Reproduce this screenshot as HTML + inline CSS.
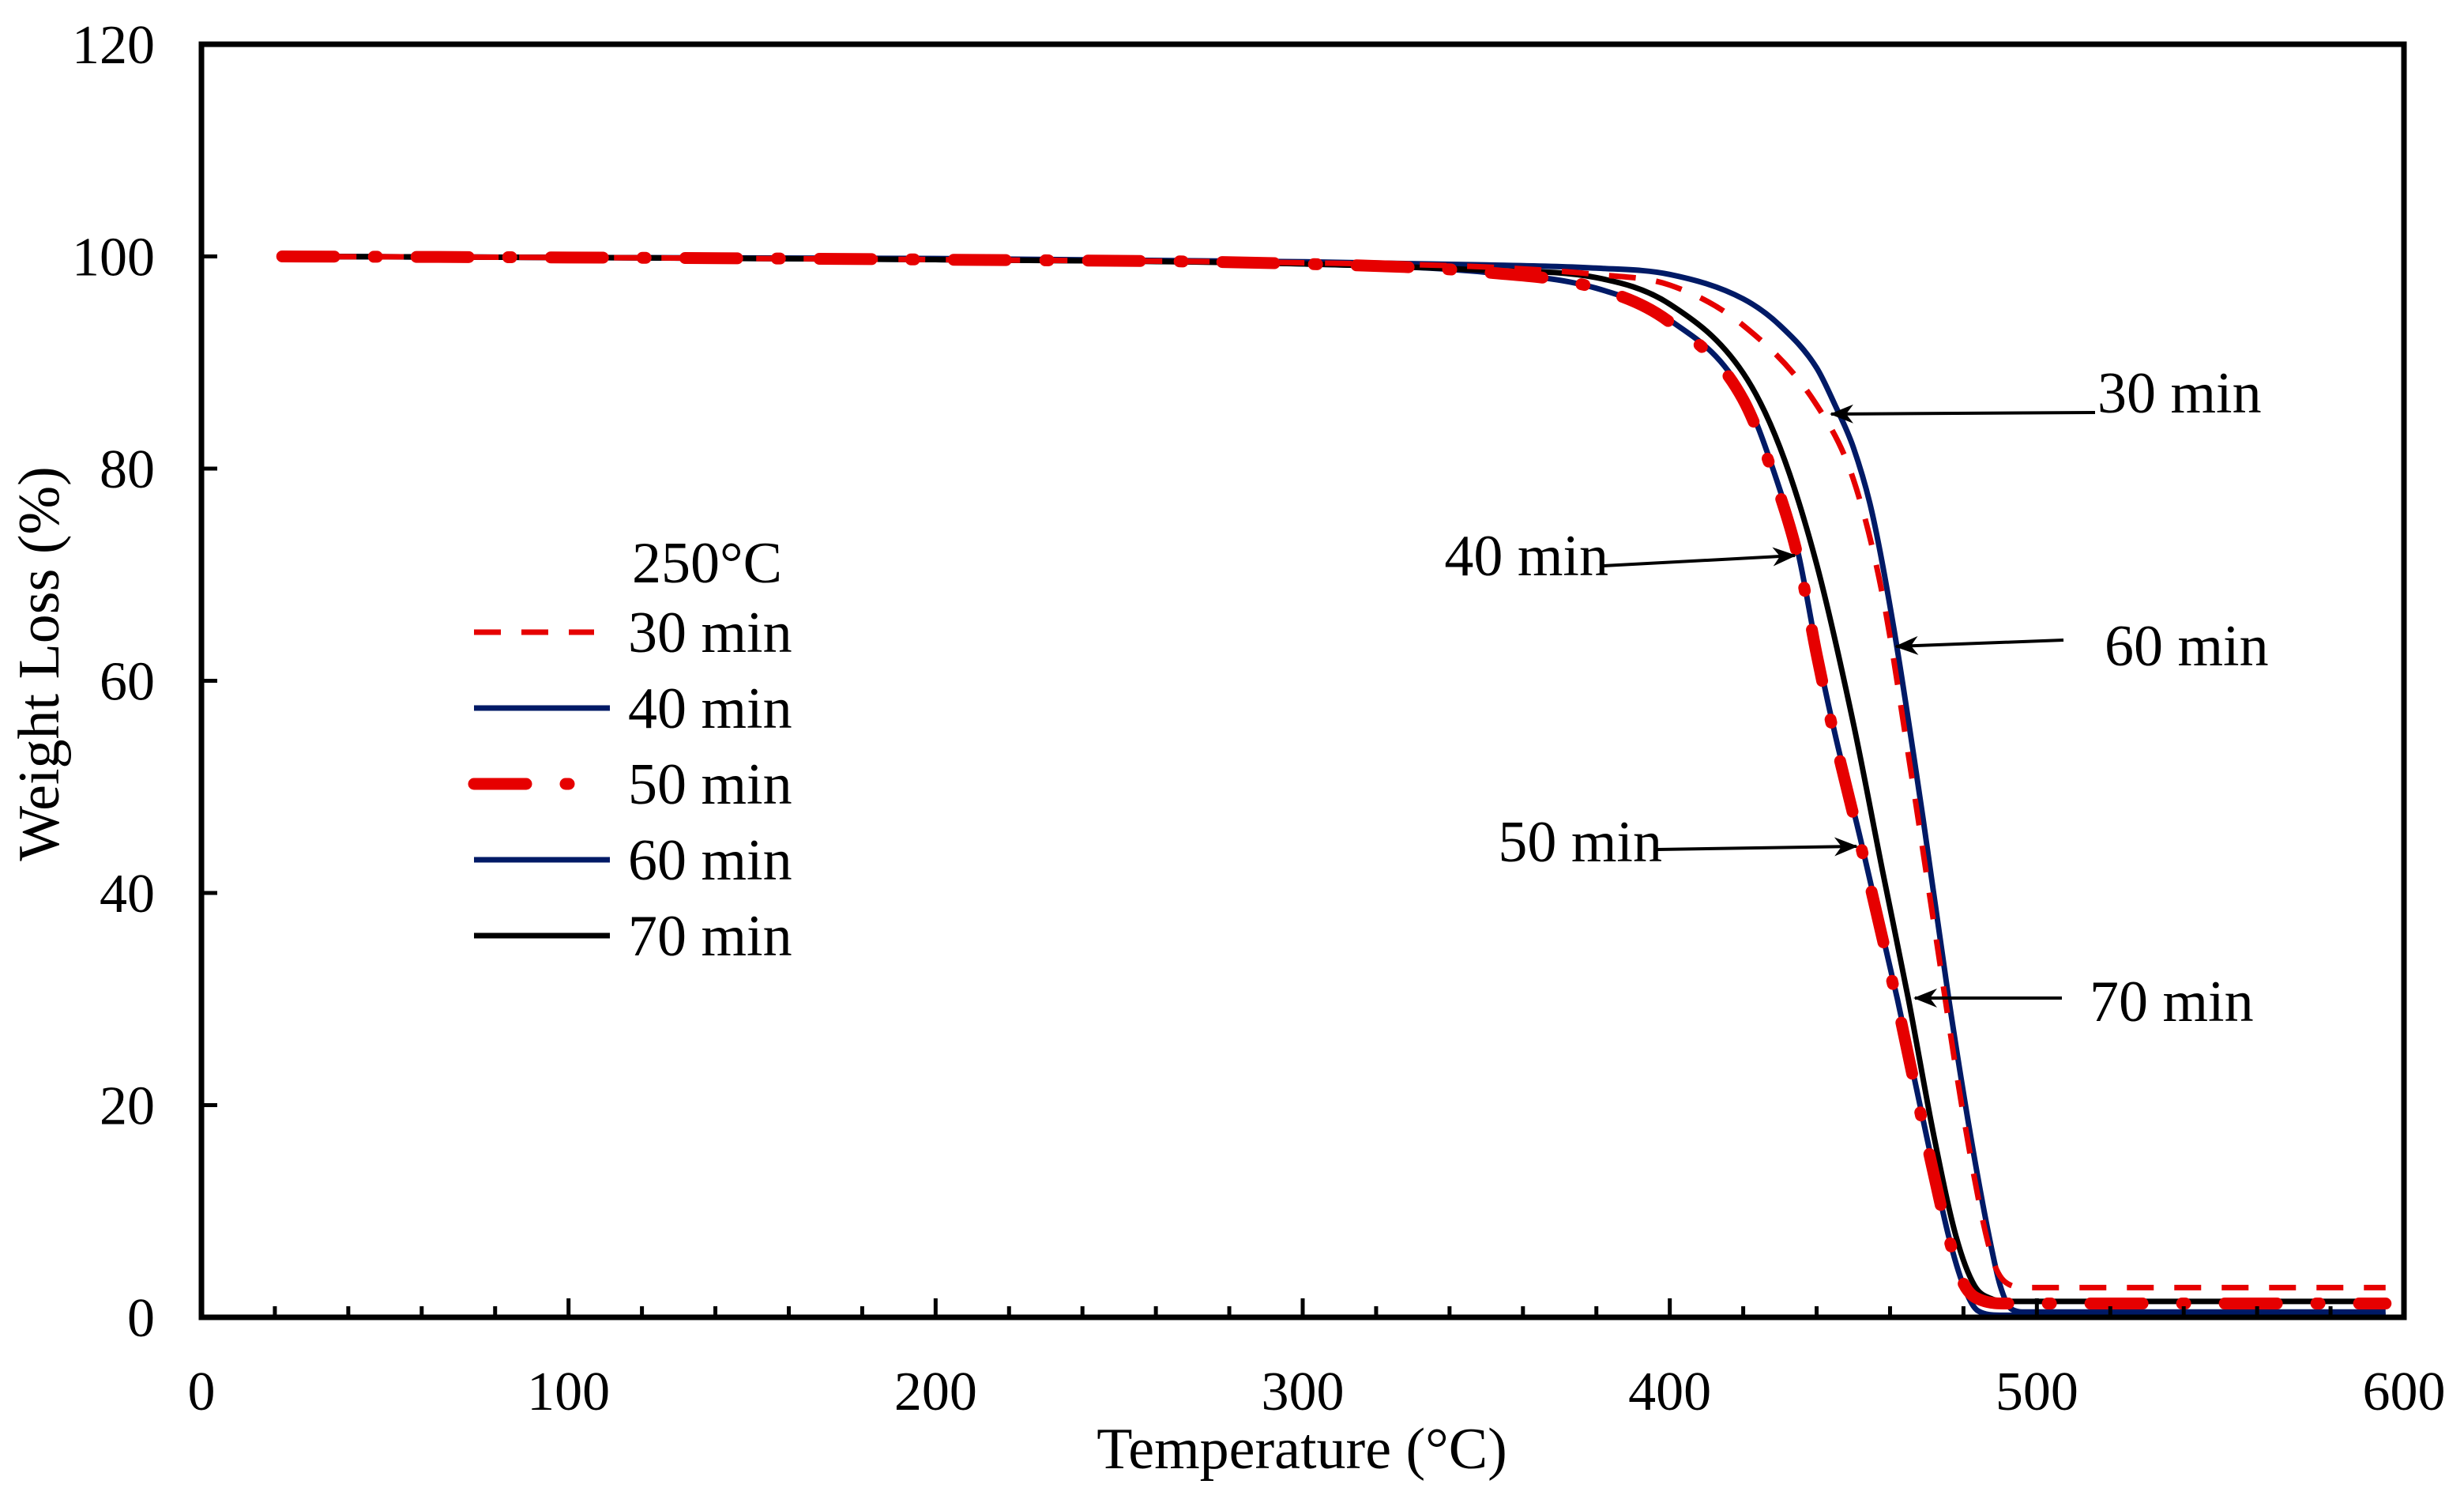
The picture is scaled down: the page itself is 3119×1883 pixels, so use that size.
<!DOCTYPE html>
<html><head><meta charset="utf-8"><style>
html,body{margin:0;padding:0;background:#fff;}
svg{display:block;font-family:"Liberation Serif",serif;}
</style></head><body>
<svg id="chart" width="3119" height="1883" viewBox="0 0 3119 1883" xmlns="http://www.w3.org/2000/svg">
<defs><marker id="arr" markerWidth="30" markerHeight="24" refX="28" refY="12" orient="auto" markerUnits="userSpaceOnUse" viewBox="0 0 30 24"><path d="M0,0 L30,12 L0,24 L9,12 z" fill="#000"/></marker></defs>
<g id="grid"></g><g id="series"></g><g id="axes"></g><g id="annot"></g><g id="legend"></g>
</svg>
<script>
const xTicks=[0,100,200,300,400,500,600];
const yTicks=[0,20,40,60,80,100,120];
const seriesNames=["30 min","40 min","50 min","60 min","70 min"];
const temp30=[22,100,200,300,350,380,400,420,440,450,458,465,472,480,486,489,493,497,595];
const w30=[100,99.9,99.7,99.4,99,98.3,97.3,93.5,86,79,68,53,37,19,8,4.5,3,2.8,2.8];
const temp40=[22,100,200,300,350,380,400,420,430,435,440,445,452,462,470,476,480,484,490,595];
const w40=[100,99.9,99.7,99.3,98.5,97,94,87,78,72,63,55,45,30,17,7.6,3,0.6,0.2,0.2];
const temp50=[22,100,200,300,350,380,400,420,430,435,440,445,452,462,470,476,480,485,492,595];
const w50=[100,99.9,99.7,99.3,98.5,97,93.8,86.5,77.5,71.5,62.5,54.5,44.5,29.5,16.5,7.5,3.2,1.6,1.3,1.3];
const temp60=[22,100,200,300,350,380,400,420,430,440,445,450,455,461,469,476,482,487,490,493,497,595];
const w60=[100,99.9,99.8,99.5,99.2,98.9,98.3,96,93.5,89.5,86,82,76,65,47,30,17,7.6,3,0.8,0.5,0.5];
const temp70=[22,100,200,300,350,380,400,420,430,440,450,458,465,472,478,483,488,492,595];
const w70=[100,99.9,99.7,99.3,98.7,98,95.5,89,82,71,56,42,30,17,7.6,3,1.7,1.5,1.5];

const L=255,R=3043,T=56,B=1667;
const X=v=>L+(v-0)/(600-0)*(R-L);
const Y=v=>B-(v-0)/(120-0)*(B-T);
const NS="http://www.w3.org/2000/svg";
function mk(tag,attrs,parent){const e=document.createElementNS(NS,tag);for(const k in attrs)e.setAttribute(k,attrs[k]);parent.appendChild(e);return e;}
const axes=document.getElementById('axes');
const frame=mk('rect',{x:L,y:T,width:R-L,height:B-T,fill:'none',stroke:'#000','stroke-width':7},axes);


for(let v=0;v<=600;v+=20){
  const major=v%100===0;
  const t=mk('line',{x1:X(v),x2:X(v),y1:B,y2:B-(major?24:14),stroke:'#000','stroke-width':5},axes);
  
  
}
xTicks.forEach(v=>{
  const t=mk('text',{x:X(v),y:1784,'font-size':70,'text-anchor':'middle'},axes);t.textContent=v;
  
  
});
yTicks.forEach(v=>{
  const tk=mk('line',{x1:L,x2:L+20,y1:Y(v),y2:Y(v),stroke:'#000','stroke-width':5},axes);
  
  
  const t=mk('text',{x:196,y:Y(v)+24,'font-size':70,'text-anchor':'end'},axes);t.textContent=v;
  
  
});
const xt=mk('text',{x:1648,y:1858,'font-size':74,'text-anchor':'middle'},axes);xt.textContent='Temperature (°C)';


const yt=mk('text',{x:0,y:0,'font-size':74,'text-anchor':'middle',transform:'translate(74,840) rotate(-90)'},axes);yt.textContent='Weight Loss (%)';



const styles=[
 {c:'#e60000',w:7,d:'34 26'},
 {c:'#001a66',w:7,d:''},
 {c:'#e60000',w:15,d:'66 50 4 50'},
 {c:'#001a66',w:7,d:''},
 {c:'#000',w:7,d:''}];
const data=[[temp30,w30],[temp40,w40],[temp50,w50],[temp60,w60],[temp70,w70]];
function monotone(px){
  const n=px.length,dx=[],dy=[],s=[],m=[];
  for(let i=0;i<n-1;i++){dx[i]=px[i+1][0]-px[i][0];dy[i]=px[i+1][1]-px[i][1];s[i]=dy[i]/dx[i];}
  m[0]=s[0];m[n-1]=s[n-2];
  for(let i=1;i<n-1;i++){m[i]=(s[i-1]*s[i]<=0)?0:(s[i-1]+s[i])/2;}
  for(let i=0;i<n-1;i++){if(s[i]===0){m[i]=0;m[i+1]=0;continue;}const a=m[i]/s[i],b=m[i+1]/s[i],h=a*a+b*b;if(h>9){const t=3/Math.sqrt(h);m[i]=t*a*s[i];m[i+1]=t*b*s[i];}}
  let d='M'+px[0][0]+','+px[0][1];
  for(let i=0;i<n-1;i++){const h=dx[i]/3;d+=' C'+(px[i][0]+h)+','+(px[i][1]+m[i]*h)+' '+(px[i+1][0]-h)+','+(px[i+1][1]-m[i+1]*h)+' '+px[i+1][0]+','+px[i+1][1];}
  return d;}
const sg=document.getElementById('series');
[1,3,4,0,2].forEach(i=>{
  const px=data[i][0].map((t,j)=>[X(t),Y(data[i][1][j])]);
  const p=mk('path',{d:monotone(px),fill:'none',stroke:styles[i].c,'stroke-width':styles[i].w,'stroke-dasharray':styles[i].d,'stroke-linecap':i===2?'round':'butt'},sg);
  
  
});
const an=document.getElementById('annot');
const arrows=[
 ["30 min",2652,522,2318,524,2655,522,'start'],
 ["40 min",2030,716,2272,703,2036,728,'end'],
 ["60 min",2612,810,2400,818,2664,842,'start'],
 ["50 min",2098,1075,2350,1071,2104,1090,'end'],
 ["70 min",2610,1263,2424,1263,2645,1292,'start']];
arrows.forEach(a=>{
  const l=mk('line',{x1:a[1],y1:a[2],x2:a[3],y2:a[4],stroke:'#000','stroke-width':4,'marker-end':'url(#arr)'},an);
  
  
  const t=mk('text',{x:a[5],y:a[6],'font-size':74,'text-anchor':a[7]},an);t.textContent=a[0];
  
  
});
const lg=document.getElementById('legend');
const ttl=mk('text',{x:800,y:737,'font-size':74},lg);ttl.textContent='250°C';


const ly=[800,896,992,1088,1184];
seriesNames.forEach((n,i)=>{
  const l=mk('line',{x1:600,x2:i===0?752:(i===2?730:772),y1:ly[i],y2:ly[i],stroke:styles[i].c,'stroke-width':styles[i].w,'stroke-dasharray':styles[i].d,'stroke-linecap':i===2?'round':'butt'},lg);
  
  
  const t=mk('text',{x:795,y:ly[i]+25,'font-size':74},lg);t.textContent=n;
  
  
});
</script>
</body></html>
